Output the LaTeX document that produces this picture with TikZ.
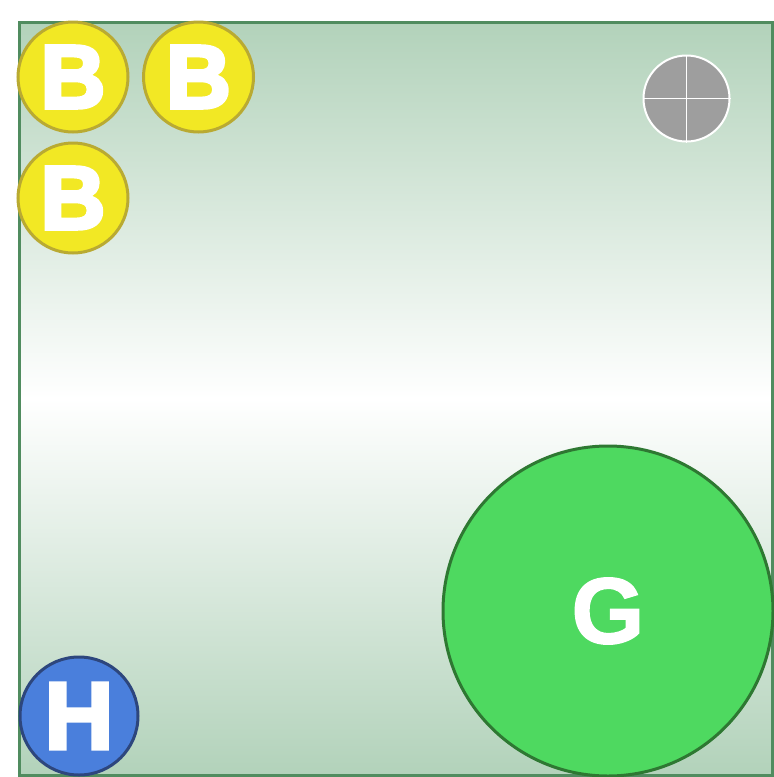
\documentclass[tikz,border=0pt]{standalone}
\usepackage{fontspec}
\setmainfont{Liberation Sans}
\newfontfamily\heavyfont[FakeBold=4]{Liberation Sans Bold}
\newfontfamily\boldfont[FakeBold=1.5]{Liberation Sans Bold}
\definecolor{bggreen}{RGB}{178,210,186}
\definecolor{framegreen}{RGB}{80,140,95}
\definecolor{byellow}{RGB}{242,232,36}
\definecolor{byellowline}{RGB}{185,170,50}
\definecolor{hblue}{RGB}{74,127,220}
\definecolor{hblueline}{RGB}{45,70,125}
\definecolor{ggreen}{RGB}{78,217,96}
\definecolor{ggreenline}{RGB}{46,120,50}
\definecolor{cgrey}{RGB}{158,158,158}
\tikzset{
  bball/.style={circle, fill=byellow, draw=byellowline, line width=3pt, minimum size=110pt, inner sep=0pt, text=white, font=\heavyfont\fontsize{90}{90}\selectfont},
  hball/.style={circle, fill=hblue, draw=hblueline, line width=3pt, minimum size=118pt, inner sep=0pt, text=white, font=\heavyfont\fontsize{95}{95}\selectfont},
  gball/.style={circle, fill=ggreen, draw=ggreenline, line width=3pt, minimum size=330pt, inner sep=0pt, text=white, font=\boldfont\fontsize{94}{94}\selectfont},
  compass/.style={circle, fill=cgrey, draw=white, line width=2pt, minimum size=86pt, inner sep=0pt},
}
\begin{document}
\begin{tikzpicture}[x=1pt,y=-1pt]
\useasboundingbox (0,0) rectangle (774,777);
\shade[top color=bggreen, bottom color=bggreen, middle color=white] (19,22) rectangle (772,775);
\draw[framegreen, line width=3pt] (19,22) rectangle (772,775);
\node[bball] (b1) at (73,77) {B};
\node[bball] (b2) at (198.5,77) {B};
\node[bball] (b3) at (73,198) {B};
\node[compass] (c) at (686.5,98.5) {};
\draw[white, line width=1.5pt] (c.north) -- (c.south) (c.west) -- (c.east);
\node[hball] (h) at (79,716) {H};
\node[gball] (g) at (608,611) {G};
\end{tikzpicture}
\end{document}
